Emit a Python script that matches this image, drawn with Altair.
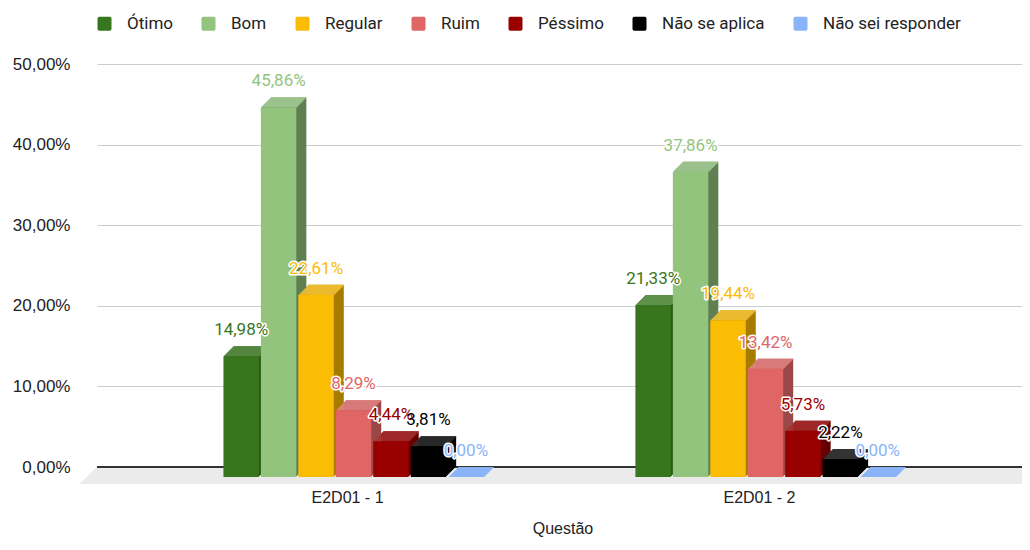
import altair as alt
import pandas as pd

# ---- data ----
categorias = ["Ótimo", "Bom", "Regular", "Ruim", "Péssimo", "Não se aplica", "Não sei responder"]
questoes = ["E2D01 - 1", "E2D01 - 2"]
valores_q1 = [14.98, 45.86, 22.61, 8.29, 4.44, 3.81, 0.00]
valores_q2 = [21.33, 37.86, 19.44, 13.42, 5.73, 2.22, 0.00]
y_ticks = [0, 10, 20, 30, 40, 50]

# ---- styles ----
cores_frente = ["#38761d", "#93c47d", "#fbbc04", "#e06666", "#990000", "#000000", "#8ab4f8"]
cores_lado = ["#285a14", "#5f7f50", "#a67c00", "#9a4747", "#660000", "#000000", "#6d8fc4"]
cores_topo = ["#5e914a", "#a9d19a", "#fcc93a", "#e78686", "#ad3030", "#333333", "#8ab4f8"]

rows = []
for q, vals in zip(questoes, [valores_q1, valores_q2]):
    for c, v in zip(categorias, vals):
        rows.append({"questao": q, "categoria": c, "valor": v,
                     "rotulo": f"{v:.2f}".replace(".", ",") + "%"})
df = pd.DataFrame(rows)

# band domain: empty slots, bars of group 1, empty slots, bars of group 2, empty slots
dominio_x = (["~a", "~b", "~c"] +
             [f"{questoes[0]}|{c}" for c in categorias] + ["~1", "~2", "~3", "~4"] +
             [f"{questoes[1]}|{c}" for c in categorias] + ["~d", "~e", "~f"])

W, H = 925, 403
DEPTH = 10
FLOOR = 17

base = alt.Chart(df).transform_calculate(chave="datum.questao + '|' + datum.categoria")

x_axis = alt.Axis(title="Questão", domain=False, ticks=False, grid=False, labelAngle=0,
                  labelExpr="indexof(datum.value, '|Ruim') >= 0 ? split(datum.value, '|')[0] : ''",
                  labelOffset=-6,
                  labelFont="Liberation Sans", labelFontSize=16, labelColor="#222222",
                  labelPadding=22, titleFont="Liberation Sans", titleFontSize=16,
                  titleFontWeight="normal", titleColor="#222222", titlePadding=15,
                  titleX=W / 2 + 3)


def xenc():
    return alt.X("chave:N", sort=dominio_x,
                 scale=alt.Scale(domain=dominio_x, paddingInner=0.053, paddingOuter=0.376),
                 axis=x_axis)


y_scale = alt.Scale(domain=[0, 50])
y_axis = alt.Axis(values=y_ticks, title=None, domain=False, ticks=False, grid=True,
                  labelExpr="replace(format(datum.value, '.2f'), '.', ',') + '%'",
                  labelPadding=27, gridColor="#cccccc", gridWidth=1,
                  labelFont="Liberation Sans", labelFontSize=17, labelColor="#222222")


def yenc():
    return alt.Y("valor:Q", scale=y_scale, axis=y_axis, title=None)


def cenc(rng, legend=None):
    return alt.Color("categoria:N", sort=categorias,
                     scale=alt.Scale(domain=categorias, range=rng), legend=legend)


# slanted floor (1px strips)
layers = []
for j in range(FLOOR):
    layers.append(base.mark_rect(color="#ebebeb").encode(
        x=alt.value(-j - 1), x2=alt.value(W + 10), y=alt.value(H + j), y2=alt.value(H + j + 1)))

zero = base.mark_rule(color="#333333", strokeWidth=1.2).encode(
    x=alt.value(0), x2=alt.value(W + 10),
    y=alt.YDatum(0, scale=y_scale, axis=y_axis, title=None))
layers.append(zero)

for k in range(1, DEPTH + 1):
    layers.append(base.mark_bar(xOffset=k, yOffset=DEPTH - k, y2Offset=DEPTH - k).encode(
        x=xenc(), y=yenc(), color=cenc(cores_lado)))
for k in range(1, DEPTH + 1):
    layers.append(base.mark_bar(xOffset=k, yOffset=DEPTH - k, y2Offset=DEPTH - k + 1).encode(
        x=xenc(), y=yenc(), y2="valor:Q", color=cenc(cores_topo)))

rounded = ("M-0.75,-1H0.75Q1,-1 1,-0.75V0.75Q1,1 0.75,1H-0.75Q-1,1 -1,0.75"
           "V-0.75Q-1,-1 -0.75,-1Z")
legend = alt.Legend(orient="none", legendX=-1, legendY=-49, direction="horizontal",
                    title=None, symbolType=rounded, symbolSize=196, symbolStrokeWidth=0,
                    labelFont="Roboto", labelFontSize=17, labelColor="#222222",
                    labelOffset=14, columnPadding=27)

front = base.mark_bar(yOffset=DEPTH, y2Offset=DEPTH).encode(
    x=xenc(), y=yenc(), color=cenc(cores_frente, legend))

halo = base.mark_text(dy=-11, baseline="alphabetic", font="Roboto", fontSize=17,
                      stroke="white", strokeWidth=3, strokeJoin="round", fill="white").encode(
    x=xenc(), y=yenc(), text="rotulo:N")
labels = base.mark_text(dy=-11, baseline="alphabetic", font="Roboto", fontSize=17).encode(
    x=xenc(), y=yenc(), text="rotulo:N", color=cenc(cores_frente))

layers += [front, halo, labels]

chart = alt.layer(*layers).resolve_scale(color="independent").properties(
    width=W, height=H,
    padding={"left": 89, "top": 56, "right": 0, "bottom": 75},
    autosize=alt.AutoSizeParams(type="none"),
).configure_view(stroke=None)

chart.save("out.html", embed_options={"renderer": "svg", "actions": False})
